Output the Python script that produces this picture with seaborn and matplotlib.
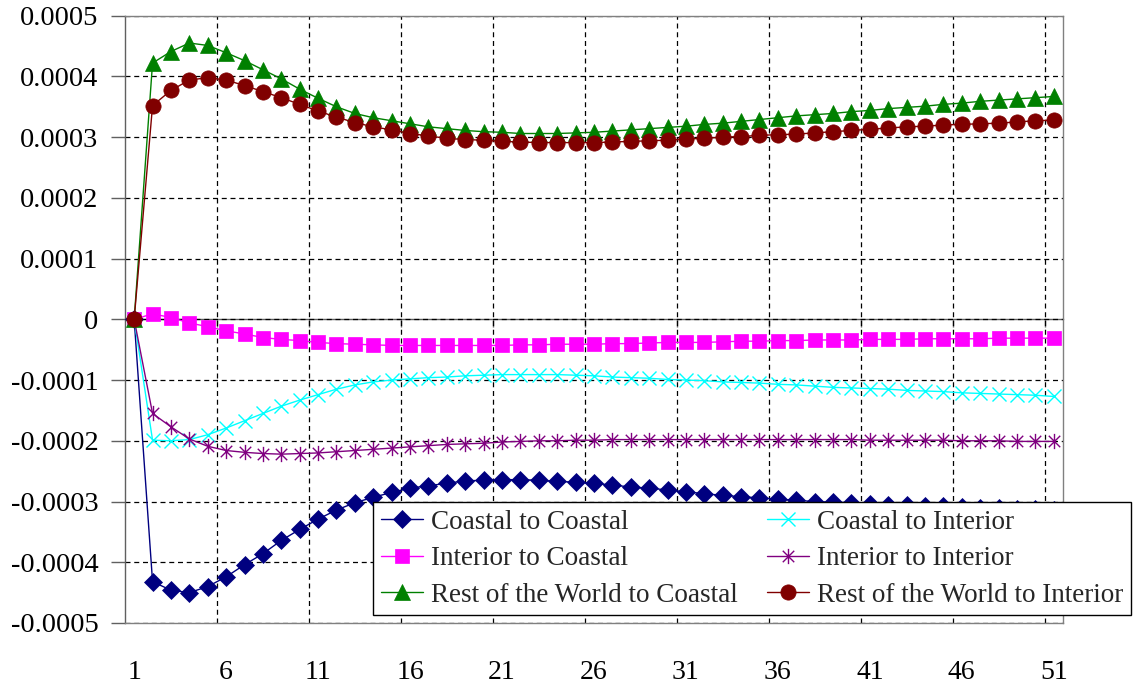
import numpy as np
import pandas as pd
import matplotlib
matplotlib.use("Agg")
import matplotlib.pyplot as plt
from matplotlib.path import Path
from matplotlib.lines import Line2D
import seaborn as sns

periods = list(range(1, 52))
x_tick_values = [1, 6, 11, 16, 21, 26, 31, 36, 41, 46, 51]
x_tick_labels = ["1", "6", "11", "16", "21", "26", "31", "36", "41", "46", "51"]
y_tick_values = [-0.0005, -0.0004, -0.0003, -0.0002, -0.0001, 0.0, 0.0001, 0.0002, 0.0003, 0.0004, 0.0005]
y_tick_labels = ["-0.0005", "-0.0004", "-0.0003", "-0.0002", "-0.0001", "0",
                 "0.0001", "0.0002", "0.0003", "0.0004", "0.0005"]

# values in units of 1e-4
coastal_to_coastal = [0, -4.32, -4.46, -4.50, -4.40, -4.24, -4.04, -3.86, -3.64, -3.46,
                      -3.29, -3.14, -3.02, -2.93, -2.85, -2.78, -2.74, -2.70, -2.66, -2.65,
                      -2.64, -2.64, -2.65, -2.67, -2.68, -2.70, -2.73, -2.76, -2.78, -2.81,
                      -2.84, -2.87, -2.90, -2.92, -2.94, -2.96, -2.98, -3.00, -3.01, -3.02,
                      -3.04, -3.05, -3.06, -3.07, -3.08, -3.09, -3.10, -3.11, -3.12, -3.13, -3.14]
coastal_to_interior = [0, -1.99, -2.00, -1.98, -1.90, -1.79, -1.67, -1.55, -1.43, -1.33,
                       -1.24, -1.15, -1.08, -1.03, -1.00, -0.98, -0.96, -0.95, -0.93, -0.92,
                       -0.91, -0.91, -0.91, -0.91, -0.92, -0.93, -0.95, -0.96, -0.97, -0.99,
                       -1.00, -1.01, -1.03, -1.04, -1.05, -1.07, -1.08, -1.10, -1.12, -1.13,
                       -1.14, -1.15, -1.17, -1.18, -1.19, -1.21, -1.22, -1.23, -1.24, -1.25, -1.27]
interior_to_coastal = [0, 0.09, 0.03, -0.06, -0.12, -0.19, -0.24, -0.30, -0.33, -0.35,
                       -0.38, -0.40, -0.41, -0.42, -0.43, -0.43, -0.43, -0.43, -0.43, -0.43,
                       -0.43, -0.42, -0.42, -0.41, -0.41, -0.41, -0.40, -0.40, -0.39, -0.38,
                       -0.38, -0.38, -0.37, -0.36, -0.36, -0.35, -0.35, -0.34, -0.34, -0.34,
                       -0.33, -0.33, -0.33, -0.32, -0.32, -0.32, -0.32, -0.31, -0.31, -0.31, -0.31]
interior_to_interior = [0, -1.55, -1.77, -1.97, -2.09, -2.16, -2.19, -2.21, -2.22, -2.21,
                        -2.20, -2.18, -2.16, -2.14, -2.12, -2.10, -2.08, -2.06, -2.05, -2.04,
                        -2.02, -2.01, -2.00, -2.00, -1.99, -1.99, -1.98, -1.98, -1.98, -1.98,
                        -1.98, -1.98, -1.98, -1.98, -1.98, -1.98, -1.98, -1.98, -1.98, -1.98,
                        -1.99, -1.99, -1.99, -1.99, -1.99, -2.00, -2.00, -2.00, -2.01, -2.01, -2.01]
row_to_coastal = [0, 4.22, 4.41, 4.55, 4.51, 4.39, 4.26, 4.11, 3.96, 3.79,
                  3.64, 3.50, 3.39, 3.32, 3.27, 3.22, 3.17, 3.14, 3.11, 3.09,
                  3.08, 3.06, 3.06, 3.06, 3.07, 3.08, 3.10, 3.12, 3.14, 3.16,
                  3.18, 3.21, 3.23, 3.26, 3.29, 3.32, 3.35, 3.37, 3.39, 3.42,
                  3.44, 3.47, 3.49, 3.51, 3.54, 3.56, 3.59, 3.61, 3.63, 3.65, 3.67]
row_to_interior = [0, 3.52, 3.77, 3.94, 3.98, 3.94, 3.85, 3.75, 3.65, 3.54,
                   3.43, 3.33, 3.24, 3.17, 3.12, 3.06, 3.02, 2.98, 2.96, 2.95,
                   2.93, 2.92, 2.91, 2.91, 2.91, 2.91, 2.92, 2.93, 2.94, 2.95,
                   2.97, 2.98, 3.00, 3.01, 3.03, 3.04, 3.05, 3.07, 3.09, 3.11,
                   3.13, 3.15, 3.17, 3.18, 3.20, 3.21, 3.22, 3.23, 3.25, 3.27, 3.28]

series_names = ["Coastal to Coastal", "Coastal to Interior", "Interior to Coastal",
                "Interior to Interior", "Rest of the World to Coastal",
                "Rest of the World to Interior"]
series_values = [coastal_to_coastal, coastal_to_interior, interior_to_coastal,
                 interior_to_interior, row_to_coastal, row_to_interior]

frames = []
for name, vals in zip(series_names, series_values):
    frames.append(pd.DataFrame({"period": periods,
                                "value": np.array(vals) * 1e-4,
                                "series": name}))
df = pd.concat(frames, ignore_index=True)

sns.set_theme(style="white")
plt.rcParams["font.family"] = ["Liberation Serif", "DejaVu Serif"]

# asterisk: vertical line plus an X
star_path = Path([(0, -1), (0, 1), (-0.75, -0.75), (0.75, 0.75), (-0.75, 0.75), (0.75, -0.75)],
                 [Path.MOVETO, Path.LINETO, Path.MOVETO, Path.LINETO, Path.MOVETO, Path.LINETO])

styles = {
    "Coastal to Coastal": dict(color="#000080", marker="D", ms=9, mew=0.5),
    "Coastal to Interior": dict(color="#00FFFF", marker="x", ms=10.5, mew=1.0),
    "Interior to Coastal": dict(color="#FF00FF", marker="s", ms=10, mew=0.5),
    "Interior to Interior": dict(color="#800080", marker=star_path, ms=11, mew=1.0),
    "Rest of the World to Coastal": dict(color="#008000", marker="^", ms=11, mew=0.5),
    "Rest of the World to Interior": dict(color="#800000", marker="o", ms=11, mew=0.5),
}

fig = plt.figure(figsize=(11.36, 6.88), dpi=100)
ax = fig.add_axes([0.110, 0.0945, 0.8257, 0.8827])

handles = {}
for name in series_names:
    st = styles[name]
    sub = df[df["series"] == name]
    sns.lineplot(data=sub, x="period", y="value", ax=ax, color=st["color"],
                 linewidth=1.0, marker=st["marker"], markersize=st["ms"],
                 markeredgewidth=st["mew"], markeredgecolor=st["color"],
                 markerfacecolor=st["color"], legend=False, zorder=3)
    handles[name] = Line2D([], [], color=st["color"], linewidth=1.0, marker=st["marker"],
                           markersize=st["ms"], markeredgewidth=st["mew"],
                           markeredgecolor=st["color"], markerfacecolor=st["color"])

ax.set_xlim(0.5, 51.5)
ax.set_ylim(-0.0005, 0.0005)
ax.set_xlabel("")
ax.set_ylabel("")

ax.set_xticks(x_tick_values)
ax.set_xticklabels(x_tick_labels, fontsize=20)
ax.set_xticks([v + 0.5 for v in periods[4:50:5]], minor=True)
ax.set_yticks(y_tick_values)
ax.set_yticklabels(y_tick_labels, fontsize=20.5)

ax.tick_params(axis="x", which="major", length=0, pad=27, colors="black")
ax.tick_params(axis="x", which="minor", length=0)
ax.tick_params(axis="y", which="major", left=True, length=10, width=1,
               direction="out", pad=9, colors="black")
ax.tick_params(axis="y", which="major", color="#606060")

ax.grid(False)
ax.grid(True, which="minor", axis="x", color="black", linestyle=(0, (4, 3)), linewidth=0.9)
ax.grid(True, which="major", axis="y", color="black", linestyle=(0, (4, 3)), linewidth=0.9)
ax.set_axisbelow(True)

for side, sp in ax.spines.items():
    sp.set_visible(True)
    sp.set_color("#808080")
    sp.set_linewidth(1.0)
ax.spines["left"].set_color("#606060")

# category axis crossing at zero
sec = ax.secondary_xaxis(0.5)
sec.set_xticks([v + 0.5 for v in periods[4:50:5]])
sec.tick_params(axis="x", direction="in", length=6, width=1, color="#606060",
                labeltop=False, labelbottom=False)
for sp in sec.spines.values():
    sp.set_color("#606060")
    sp.set_linewidth(1.0)

order = ["Coastal to Coastal", "Interior to Coastal", "Rest of the World to Coastal",
         "Coastal to Interior", "Interior to Interior", "Rest of the World to Interior"]
leg = ax.legend([handles[n] for n in order], order, ncol=2,
                loc="upper left", bbox_to_anchor=(373 / 1136, 1 - 502 / 688),
                bbox_transform=fig.transFigure, fontsize=19.5, frameon=True,
                fancybox=False, framealpha=1, edgecolor="black", borderpad=0.28,
                handlelength=1.55, handletextpad=0.3, columnspacing=1.1,
                labelspacing=0.43, borderaxespad=0)
leg.get_frame().set_linewidth(1.0)
leg.set_zorder(10)

fig.savefig("out.png", dpi=100)
